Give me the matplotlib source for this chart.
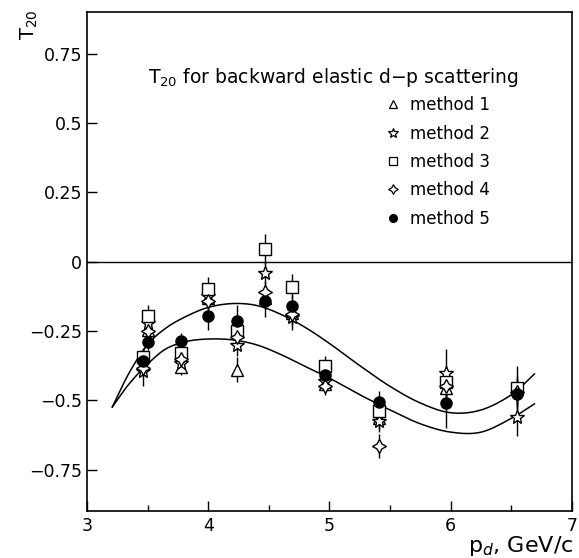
import numpy as np
import matplotlib
matplotlib.use("Agg")
import matplotlib.pyplot as plt
from matplotlib.ticker import FixedLocator, MultipleLocator, FuncFormatter

# ---- data ----
p_d = [3.46, 3.50, 3.78, 4.00, 4.24, 4.47, 4.69, 4.96, 5.41, 5.96, 6.55]

m1 = [-0.34, -0.245, -0.38, -0.13, -0.39, -0.13, -0.185, -0.44, -0.565, -0.455, -0.46]
m2 = [-0.395, -0.22, -0.365, -0.125, -0.30, -0.04, -0.20, -0.43, -0.575, -0.40, -0.56]
m3 = [-0.345, -0.197, -0.33, -0.10, -0.25, 0.046, -0.09, -0.376, -0.54, -0.435, -0.455]
m4 = [-0.385, -0.25, -0.35, -0.14, -0.27, -0.11, -0.19, -0.45, -0.665, -0.45, -0.47]
m5 = [-0.36, -0.29, -0.287, -0.195, -0.215, -0.14, -0.16, -0.41, -0.507, -0.51, -0.478]

e1 = [0.03, 0.03, 0.03, 0.04, 0.045, 0.04, 0.04, 0.03, 0.04, 0.05, 0.05]
e2 = [0.055, 0.03, 0.03, 0.04, 0.04, 0.04, 0.045, 0.03, 0.04, 0.085, 0.07]
e3 = [0.03, 0.04, 0.03, 0.045, 0.04, 0.055, 0.045, 0.035, 0.04, 0.05, 0.08]
e4 = [0.03, 0.03, 0.03, 0.04, 0.04, 0.04, 0.04, 0.03, 0.045, 0.05, 0.05]
e5 = [0.03, 0.03, 0.03, 0.05, 0.06, 0.06, 0.04, 0.03, 0.04, 0.09, 0.05]

labels = ["method 1", "method 2", "method 3", "method 4", "method 5"]

# fitted curves
upper_x = [3.21, 3.35, 3.5, 3.65, 3.82, 4.0, 4.2, 4.4, 4.6, 4.8, 5.0, 5.25, 5.5, 5.75, 6.0,
           6.25, 6.5, 6.69]
upper_y = [-0.524, -0.40, -0.30, -0.24, -0.197, -0.165, -0.151, -0.158, -0.19, -0.237,
           -0.295, -0.375, -0.45, -0.51, -0.545, -0.535, -0.48, -0.405]
lower_x = [3.21, 3.35, 3.5, 3.65, 3.82, 4.0, 4.2, 4.4, 4.6, 4.8, 5.0, 5.25, 5.5, 5.75, 6.0,
           6.25, 6.5, 6.69]
lower_y = [-0.524, -0.44, -0.37, -0.315, -0.288, -0.279, -0.282, -0.30, -0.335, -0.378,
           -0.42, -0.48, -0.535, -0.585, -0.615, -0.615, -0.565, -0.513]

yticks = [-0.75, -0.5, -0.25, 0, 0.25, 0.5, 0.75]
xticks = [3, 4, 5, 6, 7]


def smooth_path(xs, ys, n=20):
    """Catmull-Rom rendering of a polyline so it is drawn as a smooth stroke."""
    P = np.column_stack([xs, ys]).astype(float)
    P = np.vstack([2 * P[0] - P[1], P, 2 * P[-1] - P[-2]])
    out = []
    t = np.linspace(0, 1, n, endpoint=False)[:, None]
    for i in range(1, len(P) - 2):
        p0, p1, p2, p3 = P[i - 1], P[i], P[i + 1], P[i + 2]
        seg = 0.5 * ((2 * p1) + (-p0 + p2) * t + (2 * p0 - 5 * p1 + 4 * p2 - p3) * t ** 2
                     + (-p0 + 3 * p1 - 3 * p2 + p3) * t ** 3)
        out.append(seg)
    out.append(P[-2][None, :])
    out = np.vstack(out)
    return out[:, 0], out[:, 1]


# ---- plot ----
fig = plt.figure(figsize=(5.79, 5.58), dpi=100)
ax = fig.add_axes([0.150, 0.084, 0.838, 0.894])

ax.axhline(0, color="black", lw=1.0)
for cx, cy in ((upper_x, upper_y), (lower_x, lower_y)):
    sx, sy = smooth_path(cx, cy)
    ax.plot(sx, sy, color="black", lw=1.1)

series = [m1, m2, m3, m4, m5]
errs = [e1, e2, e3, e4, e5]
markers = ["^", "*", "s", (4, 1, 0), "o"]
sizes = [8, 10, 8.5, 10, 8]
faces = ["white", "white", "white", "white", "black"]

for s, e in zip(series, errs):
    ax.errorbar(p_d, s, yerr=e, fmt="none", ecolor="black", elinewidth=1.0, capsize=0, zorder=2)

handles = []
for s, mk, ms, fc, lab in zip(series, markers, sizes, faces, labels):
    ax.plot(p_d, s, linestyle="none", marker=mk, ms=ms, mfc=fc, mec="black", mew=1.0, zorder=3)
    h, = ax.plot([], [], linestyle="none", marker=mk, ms=ms * 0.7, mfc=fc, mec="black",
                 mew=0.9, label=lab)
    handles.append(h)

ax.set_xlim(3, 7)
ax.set_ylim(-0.9, 0.9)
ax.xaxis.set_major_locator(FixedLocator(xticks))
ax.xaxis.set_minor_locator(MultipleLocator(0.5))
ax.yaxis.set_major_locator(FixedLocator(yticks))


def yfmt(v, pos):
    if abs(v) < 1e-9:
        return "0"
    s = ("%g" % abs(v))
    return ("\u2212" if v < 0 else "") + s


ax.yaxis.set_major_formatter(FuncFormatter(yfmt))
ax.tick_params(axis="both", which="both", direction="in", labelsize=12.5)
ax.tick_params(axis="both", which="major", length=7, width=1.0)
ax.tick_params(axis="x", which="minor", length=4, width=1.0)
ax.tick_params(axis="x", pad=4)
for sp in ax.spines.values():
    sp.set_linewidth(1.2)

ax.text(0.125, 0.87, r"T$_{20}$ for backward elastic d$-$p scattering", transform=ax.transAxes,
        fontsize=13.5, ha="left", va="center")

leg = ax.legend(handles=handles, loc="upper left", bbox_to_anchor=(0.6, 0.845), frameon=False,
                fontsize=12, handlelength=1.0, handletextpad=0.5, labelspacing=0.62,
                borderaxespad=0)

fig.text(0.05, 0.955, r"T$_{20}$", rotation=90, fontsize=14, ha="center", va="center")
fig.text(0.99, 0.022, r"p$_d$, GeV/c", fontsize=16, ha="right", va="center")

fig.savefig("out.png", dpi=100)
